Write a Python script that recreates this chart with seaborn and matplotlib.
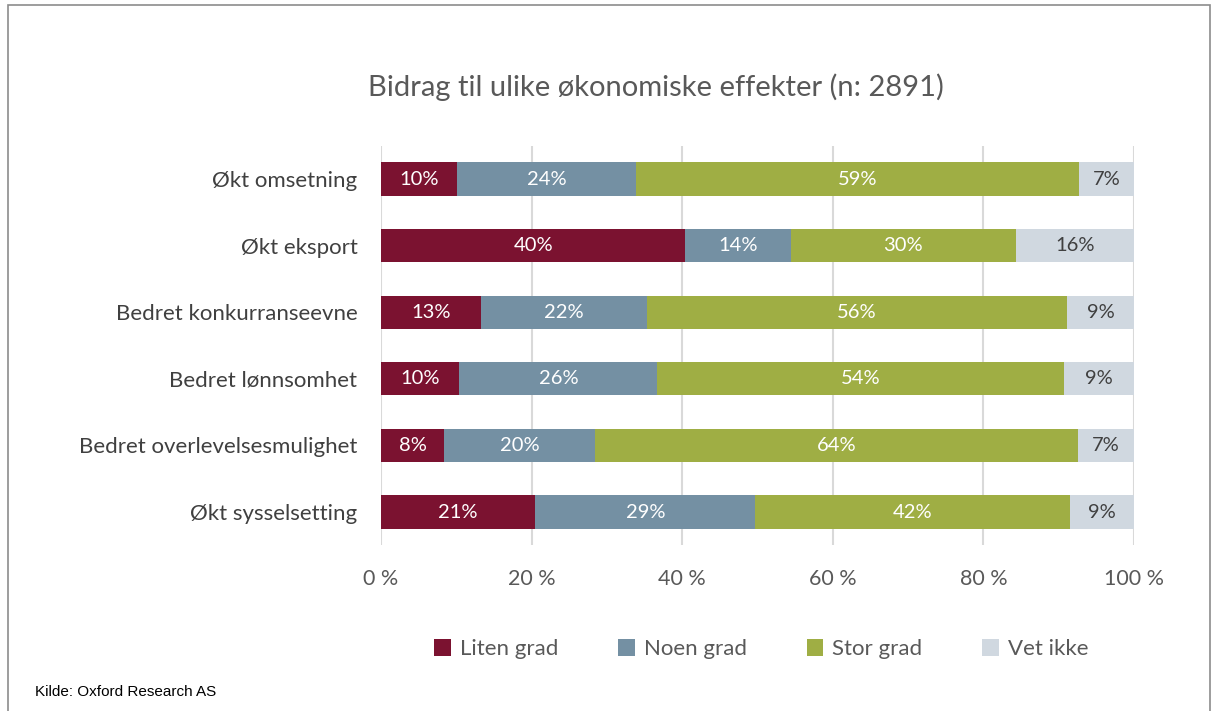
import numpy as np
import pandas as pd
import matplotlib.pyplot as plt
import seaborn as sns
from matplotlib.patches import Rectangle, Patch

categories = ["Økt omsetning", "Økt eksport", "Bedret konkurranseevne",
              "Bedret lønnsomhet", "Bedret overlevelsesmulighet", "Økt sysselsetting"]
series = ["Liten grad", "Noen grad", "Stor grad", "Vet ikke"]
liten = [10.1, 40.4, 13.3, 10.4, 8.4, 20.5]
noen = [23.8, 14.0, 22.0, 26.3, 20.0, 29.2]
stor = [58.8, 29.9, 55.8, 54.0, 64.2, 41.8]
vet = [7.3, 15.7, 8.9, 9.3, 7.4, 8.5]
labels = [["10%", "40%", "13%", "10%", "8%", "21%"],
          ["24%", "14%", "22%", "26%", "20%", "29%"],
          ["59%", "30%", "56%", "54%", "64%", "42%"],
          ["7%", "16%", "9%", "9%", "7%", "9%"]]
colors = ["#7B1230", "#7490A3", "#9FAE44", "#D0D8E0"]
text_colors = ["white", "white", "white", "#404040"]

sns.set_style("white")
plt.rcParams['font.family'] = ['Lato', 'DejaVu Sans']

df = pd.DataFrame({"cat": categories, "Liten grad": liten, "Noen grad": noen,
                   "Stor grad": stor, "Vet ikke": vet})
cum = df[series].cumsum(axis=1)

fig = plt.figure(figsize=(12.12, 7.11), dpi=100)
ax = fig.add_axes([0.3144, 0.233, 0.6212, 0.562])

# draw the longest cumulative bar first so shorter ones sit on top
for i in range(len(series) - 1, -1, -1):
    sns.barplot(x=cum[series[i]], y=df["cat"], orient="h", color=colors[i],
                width=0.5, saturation=1, ax=ax, edgecolor="none")

for i, s in enumerate(series):
    starts = cum[s] - df[s]
    for j in range(len(categories)):
        ax.text(starts[j] + df[s][j] / 2, j, labels[i][j], ha="center", va="center",
                color=text_colors[i], fontsize=14.5)

ax.set_xlim(0, 100)
ax.set_ylim(5.5, -0.5)
ax.set_xticks([0, 20, 40, 60, 80, 100])
ax.set_xticklabels(["0 %", "20 %", "40 %", "60 %", "80 %", "100 %"])
ax.set_xlabel("")
ax.set_ylabel("")
ax.tick_params(axis="x", colors="#595959", labelsize=15.5, length=0, pad=17)
ax.tick_params(axis="y", colors="#404040", labelsize=16, length=0, pad=17)
ax.grid(axis="x", color="#D9D9D9", linewidth=1.5)
ax.set_axisbelow(True)
for sp in ax.spines.values():
    sp.set_visible(False)

fig.text(0.541, 0.877, "Bidrag til ulike økonomiske effekter (n: 2891)",
         ha="center", va="center", fontsize=21, color="#595959")

handles = [Patch(facecolor=c, edgecolor="none") for c in colors]
fig.legend(handles, series, loc="center", bbox_to_anchor=(0.628, 0.087), ncol=4,
           frameon=False, fontsize=16, labelcolor="#595959", columnspacing=2.7,
           handlelength=0.75, handleheight=0.75, handletextpad=0.4)

fig.text(35 / 1212, 1 - 692 / 711, "Kilde: Oxford Research AS", ha="left", va="center",
         fontsize=11, family=["Liberation Sans Narrow", "Liberation Sans"], color="black")

fig.patches.append(Rectangle((8 / 1212, -0.05), 1202 / 1212, 1.05 - 5 / 711,
                             transform=fig.transFigure, fill=False,
                             edgecolor="#8C8C8C", linewidth=1.2))

fig.savefig("out.png", dpi=100)
